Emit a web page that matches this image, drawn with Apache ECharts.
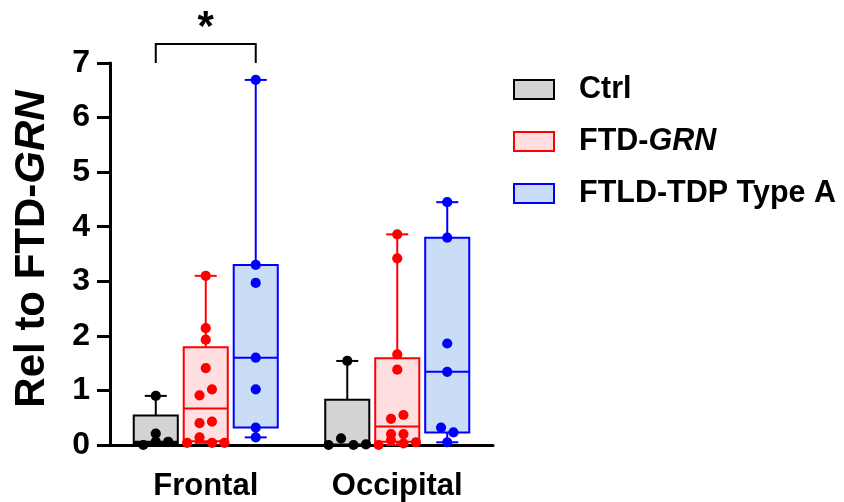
<!DOCTYPE html>
<html><head><meta charset="utf-8">
<script src="https://cdn.jsdelivr.net/npm/echarts@6/dist/echarts.min.js"></script>
<style>html,body{margin:0;padding:0;background:#fff}#c{width:844px;height:502px}</style>
</head><body><div id="c"></div>
<script>
// ---------- data ----------
const categories = ['Frontal', 'Occipital'];
const groupNames = ['Ctrl', 'FTD-GRN', 'FTLD-TDP Type A'];
const yTicks = [0, 1, 2, 3, 4, 5, 6, 7];
// individual points
const ctrlFrontal   = [0.00, 0.06, 0.06, 0.21, 0.90];
const ctrlOccipital = [0.00, 0.12, 0.00, 0.01, 1.54];
const grnFrontal    = [0.04, 0.14, 0.04, 0.04, 0.40, 0.43, 0.91, 1.02, 1.41, 1.93, 2.14, 3.10];
const grnOccipital  = [0.00, 0.09, 0.03, 0.05, 0.20, 0.20, 0.48, 0.55, 1.38, 1.66, 3.42, 3.86];
const tdpFrontal    = [0.14, 0.32, 1.02, 1.60, 2.97, 3.30, 6.69];
const tdpOccipital  = [0.05, 0.32, 0.23, 1.34, 1.86, 3.80, 4.45];
// box stats [min, Q1, median, Q3, max] per region
const ctrlBox = [[0.00, 0.03, 0.06, 0.54, 0.90], [0.00, 0.00, 0.01, 0.83, 1.54]];
const grnBox  = [[0.04, 0.07, 0.67, 1.79, 3.10], [0.00, 0.06, 0.34, 1.59, 3.86]];
const tdpBox  = [[0.14, 0.32, 1.60, 3.30, 6.69], [0.05, 0.23, 1.34, 3.80, 4.45]];
// significance annotation (Frontal: Ctrl vs FTLD-TDP Type A)
const sigCategory = 0;
const sigGroups = [0, 2];
const sigLegValue = 7.0, sigBarValue = 7.35, sigStarValue = 7.64;
const sigLabel = '*';

// ---------- styles ----------
const FONT = '"Liberation Sans", Arial, Helvetica, sans-serif';
const styles = [
  { fill: '#d3d3d3', stroke: '#000000', dot: '#000000' },
  { fill: '#ffdfe0', stroke: '#ff0000', dot: '#ff0000' },
  { fill: '#c9ddf6', stroke: '#0000ff', dot: '#0000ff' }
];
const GROUP_OFFSET = 0.261, BOX_W = 0.23, CAP_W = 0.115, DOT_STEP = 0.065, DOT_R = 5.1, BIN_PX = 9;

function swarm(vals, yPix, step) {
  const idx = vals.map((v, i) => i).sort((a, b) => vals[a] - vals[b] || a - b);
  const rows = []; let cur = null;
  idx.forEach(i => {
    const py = yPix(vals[i]);
    if (cur && cur.y0 - py < BIN_PX) cur.items.push(i);
    else { cur = { y0: py, items: [i] }; rows.push(cur); }
  });
  const off = new Array(vals.length).fill(0);
  rows.forEach(r => {
    r.items.sort((a, b) => a - b);
    const n = r.items.length;
    r.items.forEach((i, k) => { off[i] = (k - (n - 1) / 2) * step; });
  });
  return off;
}

function makeSeries(gi, boxes, points) {
  const st = styles[gi];
  return {
    type: 'custom',
    name: groupNames[gi],
    clip: false,
    itemStyle: { color: st.fill, borderColor: st.stroke, borderWidth: 2 },
    data: boxes.map((b, i) => [i].concat(b)),
    encode: { x: 0, y: [1, 2, 3, 4, 5] },
    renderItem(params, api) {
      const ci = api.value(0);
      const band = api.size([1, 0])[0];
      const cx = api.coord([ci, 0])[0] + (gi - 1) * band * GROUP_OFFSET;
      const y = v => api.coord([ci, v])[1];
      const mn = api.value(1), q1 = api.value(2), md = api.value(3), q3 = api.value(4), mx = api.value(5);
      const bw = band * BOX_W, cw = band * CAP_W;
      const ls = { stroke: st.stroke, lineWidth: 2 };
      const ch = [];
      ch.push({ type: 'line', shape: { x1: cx, y1: y(q3), x2: cx, y2: y(mx) }, style: ls });
      ch.push({ type: 'line', shape: { x1: cx, y1: y(q1), x2: cx, y2: y(mn) }, style: ls });
      ch.push({ type: 'line', shape: { x1: cx - cw / 2, y1: y(mx), x2: cx + cw / 2, y2: y(mx) }, style: ls });
      ch.push({ type: 'line', shape: { x1: cx - cw / 2, y1: y(mn), x2: cx + cw / 2, y2: y(mn) }, style: ls });
      ch.push({ type: 'rect', shape: { x: cx - bw / 2, y: y(q3), width: bw, height: y(q1) - y(q3) },
                style: { fill: st.fill, stroke: st.stroke, lineWidth: 2 } });
      ch.push({ type: 'line', shape: { x1: cx - bw / 2, y1: y(md), x2: cx + bw / 2, y2: y(md) }, style: ls });
      const vals = points[ci];
      const off = swarm(vals, y, band * DOT_STEP);
      vals.forEach((v, i) => {
        ch.push({ type: 'circle', shape: { cx: cx + off[i], cy: y(v), r: DOT_R }, style: { fill: st.dot } });
      });
      return { type: 'group', children: ch };
    },
    z: 3
  };
}

const chart = echarts.init(document.getElementById('c'), null, { renderer: 'canvas' });
const option = {
  animation: false,
  backgroundColor: '#fff',
  textStyle: { fontFamily: FONT },
  grid: { left: 110, right: 351, top: 63, bottom: 57, outerBoundsMode: 'none', containLabel: false },
  xAxis: {
    type: 'category', data: categories,
    axisLine: { lineStyle: { color: '#000', width: 3 } },
    axisTick: { alignWithLabel: true, length: 13, lineStyle: { color: '#000', width: 3 } },
    axisLabel: { color: '#000', fontSize: 31, fontWeight: 'bold', fontFamily: FONT, margin: 26 },
    splitLine: { show: false }
  },
  yAxis: {
    type: 'value', min: yTicks[0], max: yTicks[yTicks.length - 1], interval: 1,
    axisLine: { show: true, lineStyle: { color: '#000', width: 3 } },
    axisTick: { show: true, length: 13, lineStyle: { color: '#000', width: 3 } },
    axisLabel: { color: '#000', fontSize: 32, fontWeight: 'bold', fontFamily: FONT, margin: 20 },
    splitLine: { show: false },
    name: '{n|Rel to FTD-}{i|GRN}',
    nameLocation: 'middle', nameRotate: 90, nameGap: 57,
    nameTextStyle: {
      color: '#000', fontSize: 42, fontWeight: 'bold', fontFamily: FONT,
      padding: [0, 0, 0, 10],
      rich: {
        n: { fontSize: 42, fontWeight: 'bold', fontFamily: FONT, color: '#000' },
        i: { fontSize: 42, fontWeight: 'bold', fontStyle: 'italic', fontFamily: FONT, color: '#000' }
      }
    }
  },
  legend: {
    orient: 'vertical', left: 513, top: 74, padding: 0,
    itemWidth: 40, itemHeight: 19, itemGap: 21, icon: 'rect',
    data: groupNames,
    selectedMode: false,
    formatter: n => n === 'FTD-GRN' ? '{n|FTD-}{i|GRN}' : '{n|' + n + '}',
    textStyle: {
      color: '#000', fontSize: 30.5, fontWeight: 'bold', fontFamily: FONT, lineHeight: 31,
      padding: [0, 0, 0, 20],
      rich: {
        n: { fontSize: 30.5, fontWeight: 'bold', fontFamily: FONT, color: '#000', lineHeight: 31 },
        i: { fontSize: 30.5, fontWeight: 'bold', fontStyle: 'italic', fontFamily: FONT, color: '#000', lineHeight: 31 }
      }
    }
  },
  series: [
    makeSeries(0, ctrlBox, [ctrlFrontal, ctrlOccipital]),
    makeSeries(1, grnBox, [grnFrontal, grnOccipital]),
    makeSeries(2, tdpBox, [tdpFrontal, tdpOccipital]),
    {
      type: 'custom', name: 'sig', clip: false, silent: true,
      data: [[sigCategory, sigLegValue, sigBarValue, sigStarValue]],
      encode: { x: 0, y: [1, 2, 3] },
      renderItem(params, api) {
        const ci = api.value(0);
        const band = api.size([1, 0])[0];
        const c0 = api.coord([ci, 0])[0];
        const xa = c0 + (sigGroups[0] - 1) * band * GROUP_OFFSET;
        const xb = c0 + (sigGroups[1] - 1) * band * GROUP_OFFSET;
        const yl = api.coord([ci, api.value(1)])[1];
        const yb = api.coord([ci, api.value(2)])[1];
        const ys = api.coord([ci, api.value(3)])[1];
        return { type: 'group', children: [
          { type: 'polyline', shape: { points: [[xa, yl], [xa, yb], [xb, yb], [xb, yl]] },
            style: { stroke: '#000', lineWidth: 2, fill: null } },
          { type: 'text', x: (xa + xb) / 2, y: ys,
            style: { text: sigLabel, fontSize: 42, fontWeight: 'bold', fontFamily: FONT, fill: '#000',
                     align: 'center', verticalAlign: 'middle' } }
        ] };
      }
    }
  ]
};
chart.setOption(option);
</script>
</body></html>
